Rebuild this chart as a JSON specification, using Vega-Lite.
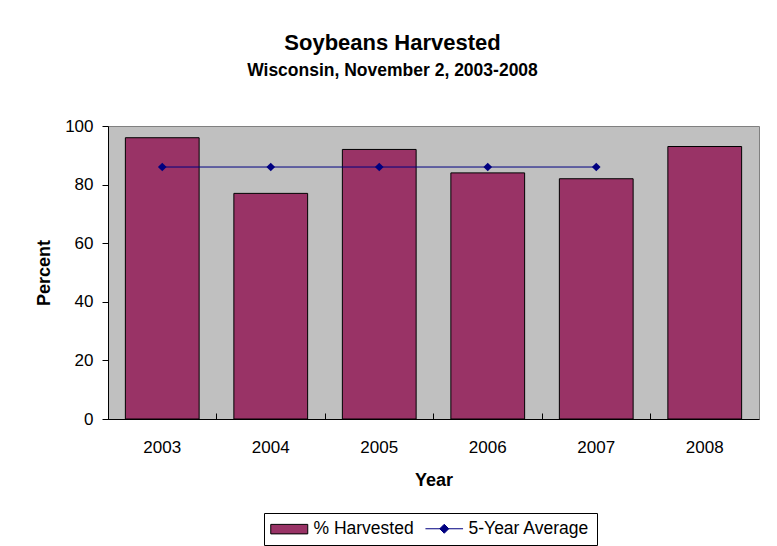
{
  "$schema": "https://vega.github.io/schema/vega-lite/v6.json",
  "width": 651,
  "height": 293,
  "autosize": {"type": "none"},
  "padding": {"left": 108, "top": 126, "right": 18, "bottom": 127},
  "background": "white",
  "title": {
    "text": "Soybeans Harvested",
    "subtitle": "Wisconsin, November 2, 2003-2008",
    "font": "Liberation Sans",
    "subtitleFont": "Liberation Sans",
    "fontSize": 22,
    "fontWeight": "bold",
    "subtitleFontSize": 17.5,
    "subtitleFontWeight": "bold",
    "color": "black",
    "subtitleColor": "black",
    "anchor": "middle",
    "dx": -41,
    "offset": 37,
    "subtitlePadding": 7
  },
  "datasets": {
    "bars": [
      {"year": "2003", "value": 96, "series": "% Harvested"},
      {"year": "2004", "value": 77, "series": "% Harvested"},
      {"year": "2005", "value": 92, "series": "% Harvested"},
      {"year": "2006", "value": 84, "series": "% Harvested"},
      {"year": "2007", "value": 82, "series": "% Harvested"},
      {"year": "2008", "value": 93, "series": "% Harvested"}
    ],
    "avg": [
      {"year": "2003", "value": 86, "series": "5-Year Average"},
      {"year": "2004", "value": 86, "series": "5-Year Average"},
      {"year": "2005", "value": 86, "series": "5-Year Average"},
      {"year": "2006", "value": 86, "series": "5-Year Average"},
      {"year": "2007", "value": 86, "series": "5-Year Average"}
    ]
  },
  "config": {
    "font": "Liberation Sans",
    "view": {"fill": "#C0C0C0", "stroke": "#808080", "strokeWidth": 1}
  },
  "layer": [
    {
      "data": {"name": "bars"},
      "mark": {"type": "bar", "stroke": "black", "strokeWidth": 1},
      "encoding": {
        "x": {
          "field": "year",
          "type": "nominal",
          "scale": {"domain": ["2003", "2004", "2005", "2006", "2007", "2008"], "paddingInner": 0.32, "paddingOuter": 0.16},
          "axis": {
            "orient": "bottom",
            "title": "Year",
            "titleFontSize": 18,
            "titleFontWeight": "bold",
            "titleColor": "black",
            "titlePadding": 16,
            "labelAngle": 0,
            "labelFontSize": 17,
            "labelColor": "black",
            "labelPadding": 20,
            "ticks": false,
            "tickSize": 0,
            "domainColor": "black",
            "grid": false
          }
        },
        "y": {
          "field": "value",
          "type": "quantitative",
          "scale": {"domain": [0, 100]},
          "axis": {
            "title": "Percent",
            "titleFontSize": 18,
            "titleFontWeight": "bold",
            "titleColor": "black",
            "titlePadding": 11,
            "values": [0, 20, 40, 60, 80, 100],
            "labelFontSize": 17,
            "labelColor": "black",
            "labelPadding": 9,
            "tickSize": 6,
            "tickColor": "black",
            "domainColor": "black",
            "grid": false
          }
        },
        "fill": {
          "field": "series",
          "type": "nominal",
          "scale": {"domain": ["% Harvested", "5-Year Average"], "range": ["#993366", "transparent"]},
          "legend": {
            "orient": "none",
            "legendX": 156,
            "legendY": 387,
            "direction": "horizontal",
            "title": null,
            "strokeColor": "black",
            "fillColor": "white",
            "padding": 7,
            "symbolSize": 100,
            "symbolType": "M-1.8,-0.95L5.6,-0.95L5.6,0.95L-1.8,0.95Z",
            "symbolStrokeWidth": 1,
            "labelFontSize": 17.5,
            "labelColor": "black",
            "labelOffset": 25,
            "columnPadding": 9
          }
        },
        "stroke": {
          "field": "series",
          "type": "nominal",
          "scale": {"domain": ["% Harvested", "5-Year Average"], "range": ["black", "transparent"]},
          "legend": {
            "orient": "none",
            "legendX": 156,
            "legendY": 387,
            "direction": "horizontal",
            "title": null,
            "strokeColor": "black",
            "fillColor": "white",
            "padding": 7,
            "symbolSize": 100,
            "symbolType": "M-1.8,-0.95L5.6,-0.95L5.6,0.95L-1.8,0.95Z",
            "symbolStrokeWidth": 1,
            "labelFontSize": 17.5,
            "labelColor": "black",
            "labelOffset": 25,
            "columnPadding": 9
          }
        }
      }
    },
    {
      "data": {"name": "avg"},
      "mark": {"type": "line", "strokeWidth": 1, "color": "#000080"},
      "encoding": {
        "x": {
          "field": "year",
          "type": "nominal",
          "axis": {
            "orient": "bottom",
            "title": null,
            "labels": false,
            "domain": false,
            "ticks": true,
            "tickSize": -6,
            "tickColor": "black",
            "bandPosition": -0.235,
            "grid": false
          }
        },
        "y": {"field": "value", "type": "quantitative"}
      }
    },
    {
      "data": {"name": "avg"},
      "mark": {"type": "point", "shape": "diamond", "size": 75, "filled": true, "opacity": 1},
      "encoding": {
        "x": {"field": "year", "type": "nominal", "axis": null},
        "y": {"field": "value", "type": "quantitative"},
        "color": {
          "field": "series",
          "type": "nominal",
          "scale": {"domain": ["5-Year Average"], "range": ["#000080"]},
          "legend": {
            "orient": "none",
            "legendX": 307,
            "legendY": 387,
            "direction": "horizontal",
            "title": null,
            "padding": 7,
            "symbolSize": 100,
            "symbolType": "M-1.06,0L6.46,0M2.7,-0.9L3.6,0L2.7,0.9L1.8,0Z",
            "symbolStrokeColor": "#000080",
            "symbolStrokeWidth": 1,
            "symbolOpacity": 1,
            "labelFontSize": 17.5,
            "labelExpr": "''",
            "labelOpacity": 0,
            "labelOffset": 25
          }
        }
      }
    }
  ],
  "resolve": {"axis": {"x": "independent"}}
}
